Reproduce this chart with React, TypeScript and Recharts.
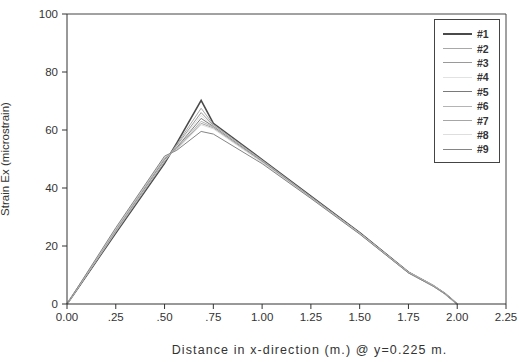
import { LineChart, Line, XAxis, YAxis, ReferenceLine, Label } from 'recharts'

// distance along x (m.), measured at y=0.225 m.
const distance = [0, 0.25, 0.5, 0.5625, 0.6875, 0.75, 1.0, 1.25, 1.5, 1.75, 1.875, 1.9375, 2.0]

const s1 = [0, 24.5, 48.5, 55.5, 70.2, 62.3, 49.8, 37.2, 24.6, 11.0, 6.4, 3.6, 0]
const s2 = [0, 24.8, 49.0, 55.0, 67.5, 61.9, 49.6, 37.0, 24.5, 11.0, 6.5, 3.7, 0]
const s3 = [0, 25.0, 49.3, 54.6, 66.0, 61.6, 49.4, 36.9, 24.4, 10.9, 6.4, 3.6, 0]
const s4 = [0, 25.2, 49.6, 54.2, 65.0, 61.4, 49.3, 36.8, 24.4, 10.9, 6.4, 3.6, 0]
const s5 = [0, 25.4, 49.9, 53.9, 64.0, 61.2, 49.2, 36.8, 24.3, 10.8, 6.3, 3.6, 0]
const s6 = [0, 25.6, 50.2, 53.6, 63.0, 61.0, 49.0, 36.7, 24.3, 10.8, 6.3, 3.5, 0]
const s7 = [0, 25.8, 50.5, 53.4, 62.3, 60.7, 48.9, 36.6, 24.2, 10.8, 6.3, 3.5, 0]
const s8 = [0, 26.0, 50.7, 53.2, 61.8, 60.4, 48.8, 36.5, 24.2, 10.7, 6.2, 3.5, 0]
const s9 = [0, 26.3, 51.0, 53.0, 59.5, 58.6, 48.4, 36.4, 24.1, 10.7, 6.2, 3.5, 0]

const seriesNames = ['#1', '#2', '#3', '#4', '#5', '#6', '#7', '#8', '#9']
const seriesValues = [s1, s2, s3, s4, s5, s6, s7, s8, s9]
const seriesColors = ['#4a4a4a', '#a8a8a8', '#9a9a9a', '#e2e2e2', '#7a7a7a', '#b4b4b4', '#a6a6a6', '#dedede', '#858585']
const seriesWidths = [1.6, 1, 1, 1, 1, 1, 1, 1, 1]

const xTicks = [0, 0.25, 0.5, 0.75, 1.0, 1.25, 1.5, 1.75, 2.0, 2.25]
const xTickLabels = ['0.00', '.25', '.50', '.75', '1.00', '1.25', '1.50', '1.75', '2.00', '2.25']
const yTicks = [0, 20, 40, 60, 80, 100]

const data = distance.map((d, i) => {
  const row: Record<string, number> = { x: d }
  seriesNames.forEach((n, k) => { row[n] = seriesValues[k][i] })
  return row
})

const font = "Arial, 'Liberation Sans', sans-serif"

function LegendBox() {
  return (
    <div style={{ position: 'absolute', left: 434, top: 19, width: 66, height: 144, border: '1px solid #444', background: '#fff', boxSizing: 'border-box', paddingTop: 7 }}>
      {seriesNames.map((n, i) => (
        <div key={n} style={{ display: 'flex', alignItems: 'center', height: 14.4 }}>
          <div style={{ marginLeft: 8, width: 29, height: 0, borderTop: `${seriesWidths[i] > 1 ? 2 : 1}px solid ${seriesColors[i]}` }} />
          <span style={{ marginLeft: 5, fontSize: 10.5, fontWeight: 'bold', color: '#333', fontFamily: font, lineHeight: '12px' }}>{n}</span>
        </div>
      ))}
    </div>
  )
}

export default function App() {
  return (
    <div style={{ position: 'absolute', left: 0, top: 0, width: 519, height: 362, background: '#fff' }}>
      <LineChart width={519} height={362} data={data} margin={{ top: 14, right: 13, left: 22, bottom: 28 }}>
        <XAxis
          dataKey="x"
          type="number"
          domain={[0, 2.25]}
          ticks={xTicks}
          tickFormatter={(v: number) => xTickLabels[xTicks.indexOf(v)] ?? String(v)}
          stroke="#333"
          tick={{ fill: '#333', fontSize: 11.5, fontFamily: font }}
          tickSize={5}
          tickMargin={4}
          height={30}
        >
          <Label value="Distance in x-direction (m.) @ y=0.225 m." position="insideBottom" offset={-20} dx={23} style={{ fill: '#333', fontSize: 12.5, fontFamily: font, letterSpacing: '1.1px' }} />
        </XAxis>
        <YAxis
          type="number"
          domain={[0, 100]}
          ticks={yTicks}
          stroke="#333"
          tick={{ fill: '#333', fontSize: 11.5, fontFamily: font }}
          tickSize={5}
          tickMargin={4}
          width={45}
        >
          <Label value="Strain Ex (microstrain)" angle={-90} position="insideLeft" offset={-17} style={{ textAnchor: 'middle', fill: '#333', fontSize: 11.5, fontFamily: font }} />
        </YAxis>
        <ReferenceLine y={100} stroke="#444" />
        <ReferenceLine x={2.25} stroke="#444" />
        {seriesNames.map((n, k) => (
          <Line
            key={n}
            dataKey={n}
            name={n}
            type="linear"
            stroke={seriesColors[k]}
            strokeWidth={seriesWidths[k]}
            dot={false}
            isAnimationActive={false}
          />
        ))}
      </LineChart>
      <LegendBox />
    </div>
  )
}
